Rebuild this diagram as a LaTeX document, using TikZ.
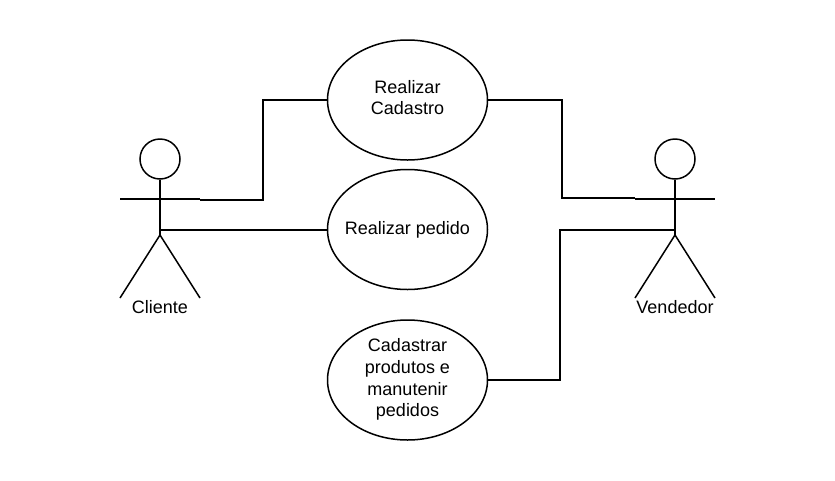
\documentclass[tikz,border=0pt]{standalone}
\usepackage{fontspec}
\setmainfont{Liberation Sans}
\usetikzlibrary{shapes.geometric}
\begin{document}
\begin{tikzpicture}[x=1pt,y=-1pt,
  line width=1.5pt,
  usecase/.style={draw,ellipse,minimum width=160pt,minimum height=120pt,inner sep=-14pt,align=center,font=\fontsize{18}{21.6}\selectfont},
  head/.style={draw,circle,minimum size=40pt,inner sep=0pt},
  lbl/.style={font=\fontsize{18}{20}\selectfont,inner sep=0pt},
  conn/.style={line width=1.5pt}]
\useasboundingbox (0,0) rectangle (835,480);
\node[usecase] (u1) at (407.5,100) {\raisebox{4pt}{\begin{tabular}{@{}c@{}}Realizar\\[-0.6pt]Cadastro\end{tabular}}};
\node[usecase] (u2) at (407.5,229.5) {\raisebox{0.8pt}{Realizar pedido}};
\node[usecase] (u3) at (407.5,380) {\raisebox{0.5pt}{\begin{tabular}{@{}c@{}}Cadastrar\\produtos e\\manutenir\\pedidos\end{tabular}}};
\node[head] (h1) at (160,159) {};
\coordinate (w1) at (160,230);
\coordinate (al1) at (120,199);
\coordinate (ar1) at (200,199);
\coordinate (fl1) at (120,298);
\coordinate (fr1) at (200,298);
\draw (h1.south) -- (160,235);
\draw[line width=1.2pt] (al1) -- (ar1);
\draw (fl1) -- (160,235) -- (fr1);
\node[lbl] (c) at (160,307) {Cliente};
\node[head] (h2) at (675,159) {};
\coordinate (w2) at (675,230);
\coordinate (al2) at (635,199);
\coordinate (ar2) at (715,199);
\coordinate (fl2) at (635,298);
\coordinate (fr2) at (715,298);
\draw (h2.south) -- (675,235);
\draw[line width=1.2pt] (al2) -- (ar2);
\draw (fl2) -- (675,235) -- (fr2);
\node[lbl] (v) at (675,307) {Vendedor};
\coordinate (a1) at (200,200);
\draw[conn] (a1) -| (263,100) -- (u1.west);
\draw[conn] (w1) -- (w1 -| u2.west);
\coordinate (a2) at (635,198);
\draw[conn] (u1.east) -- (562,100) |- (a2);
\draw[conn] (u3.east) -- (560,380) |- (w2);
\end{tikzpicture}
\end{document}
